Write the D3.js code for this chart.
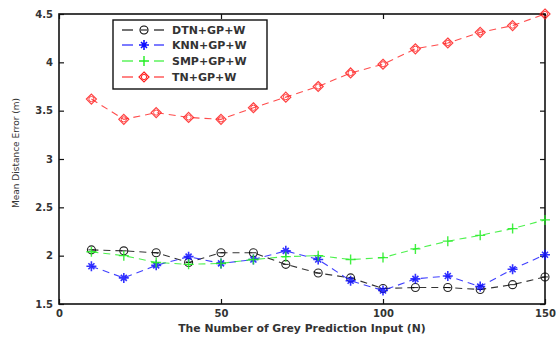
<!DOCTYPE html>
<html>
<head>
<meta charset="utf-8">
<script src="https://cdn.jsdelivr.net/npm/d3@7"></script>
<style>
  html, body { margin: 0; padding: 0; background: #fff; }
  svg { display: block; }
  text { font-family: "DejaVu Sans", Verdana, sans-serif; fill: #333; }
</style>
</head>
<body>
<svg id="chart" width="556" height="338"></svg>
<script>
// Grey prediction input sizes
const inputs = [10, 20, 30, 40, 50, 60, 70, 80, 90, 100, 110, 120, 130, 140, 150];

// Mean distance error (m) per method
const dtn = [2.06, 2.05, 2.03, 1.93, 2.03, 2.03, 1.91, 1.82, 1.77, 1.66, 1.67, 1.67, 1.65, 1.70, 1.78];
const knn = [1.89, 1.77, 1.90, 1.99, 1.92, 1.96, 2.05, 1.96, 1.74, 1.64, 1.76, 1.79, 1.68, 1.86, 2.01];
const smp = [2.04, 2.00, 1.93, 1.91, 1.92, 1.96, 1.99, 2.00, 1.96, 1.98, 2.07, 2.15, 2.21, 2.28, 2.37];
const tn  = [3.62, 3.41, 3.48, 3.43, 3.41, 3.53, 3.64, 3.75, 3.89, 3.98, 4.14, 4.20, 4.31, 4.38, 4.50];

const xTicks = [0, 50, 100, 150];
const yTicks = [1.5, 2, 2.5, 3, 3.5, 4, 4.5];

const seriesNames = ["DTN+GP+W", "KNN+GP+W", "SMP+GP+W", "TN+GP+W"];
const seriesColors = ["#000000", "#1010ff", "#22ee22", "#ff2020"];
const seriesMarkers = ["circle", "star", "plus", "diamond"];
const seriesValues = [dtn, knn, smp, tn];

const svg = d3.select("#chart");
const plot = { left: 59, right: 545, top: 14, bottom: 304 };

const x = d3.scaleLinear().domain([0, 150]).range([plot.left, plot.right]);
const y = d3.scaleLinear().domain([1.5, 4.5]).range([plot.bottom, plot.top]);

// Frame
svg.append("rect")
  .attr("x", plot.left).attr("y", plot.top)
  .attr("width", plot.right - plot.left).attr("height", plot.bottom - plot.top)
  .attr("fill", "none").attr("stroke", "#111").attr("stroke-width", 1.6);

// Axes with inward ticks (bottom/left labelled, top/right mirrored)
const tickLen = 5;
const gx = svg.append("g").attr("transform", `translate(0,${plot.bottom})`)
  .call(d3.axisBottom(x).tickValues(xTicks).tickSize(-tickLen).tickPadding(6).tickFormat(d3.format("d")));
const gxTop = svg.append("g").attr("transform", `translate(0,${plot.top})`)
  .call(d3.axisTop(x).tickValues(xTicks).tickSize(-tickLen).tickFormat(""));
const gy = svg.append("g").attr("transform", `translate(${plot.left},0)`)
  .call(d3.axisLeft(y).tickValues(yTicks).tickSize(-tickLen).tickPadding(6).tickFormat(d => String(d)));
const gyRight = svg.append("g").attr("transform", `translate(${plot.right},0)`)
  .call(d3.axisRight(y).tickValues(yTicks).tickSize(-tickLen).tickFormat(""));

[gx, gxTop, gy, gyRight].forEach(g => {
  g.select(".domain").remove();
  g.selectAll(".tick line").attr("stroke", "#111").attr("stroke-width", 1.2);
  g.selectAll(".tick text")
    .attr("font-family", "DejaVu Sans, sans-serif")
    .attr("font-size", 10).attr("font-weight", "bold").attr("fill", "#333");
});

// Axis titles
svg.append("text")
  .attr("x", (plot.left + plot.right) / 2).attr("y", 332)
  .attr("text-anchor", "middle").attr("font-size", 10.8).attr("font-weight", "bold").attr("fill", "#3a3a3a")
  .text("The Number of Grey Prediction Input (N)");

svg.append("text")
  .attr("transform", `translate(19,${(plot.top + plot.bottom) / 2 - 6}) rotate(-90)`)
  .attr("text-anchor", "middle").attr("font-size", 9).attr("fill", "#444")
  .text("Mean Distance Error (m)");

// Marker drawing
function drawMarker(g, type, color) {
  if (type === "circle") {
    g.append("circle").attr("r", 4).attr("fill", "none").attr("stroke", color).attr("stroke-width", 1.1);
    g.append("line").attr("x1", -3).attr("x2", 3).attr("stroke", color).attr("stroke-width", 1);
  } else if (type === "diamond") {
    g.append("path").attr("d", "M0,-5L5,0L0,5L-5,0Z").attr("fill", "none")
      .attr("stroke", color).attr("stroke-width", 1.2);
    g.append("circle").attr("r", 2.6).attr("fill", "none").attr("stroke", color).attr("stroke-width", 1);
  } else if (type === "plus") {
    g.append("path").attr("d", "M-5,0H5M0,-5V5").attr("stroke", color).attr("stroke-width", 1.4);
  } else if (type === "star") {
    g.append("path").attr("d", "M-5,0H5M0,-5V5M-3,-3L3,3M-3,3L3,-3").attr("stroke", color).attr("stroke-width", 1.6);
    g.append("circle").attr("r", 2).attr("fill", color);
  }
}

const line = d3.line().x(d => x(d[0])).y(d => y(d[1]));

seriesValues.forEach((vals, i) => {
  const pts = inputs.map((n, k) => [n, vals[k]]);
  const g = svg.append("g");
  g.append("path").attr("d", line(pts)).attr("fill", "none")
    .attr("stroke", seriesColors[i]).attr("stroke-width", 1.1)
    .attr("stroke-dasharray", "7,5").attr("opacity", 0.8);
  pts.forEach(p => {
    const m = g.append("g").attr("transform", `translate(${x(p[0])},${y(p[1])})`).attr("opacity", 0.85);
    drawMarker(m, seriesMarkers[i], seriesColors[i]);
  });
});

// Legend
const legend = svg.append("g");
legend.append("rect").attr("x", 113).attr("y", 20).attr("width", 154).attr("height", 69)
  .attr("fill", "#fff").attr("stroke", "#111").attr("stroke-width", 1.4);
const rowY = [30, 45, 61, 77];
seriesNames.forEach((name, i) => {
  const r = legend.append("g").attr("transform", `translate(0,${rowY[i]})`);
  r.append("line").attr("x1", 122).attr("x2", 133).attr("stroke", seriesColors[i]).attr("stroke-width", 1.1);
  r.append("line").attr("x1", 154).attr("x2", 164).attr("stroke", seriesColors[i]).attr("stroke-width", 1.1);
  const m = r.append("g").attr("transform", "translate(144,0)");
  drawMarker(m, seriesMarkers[i], seriesColors[i]);
  r.append("text").attr("x", 172).attr("y", 4).attr("font-size", 11).attr("font-weight", "bold").attr("fill", "#333").text(name);
});
</script>
</body>
</html>
